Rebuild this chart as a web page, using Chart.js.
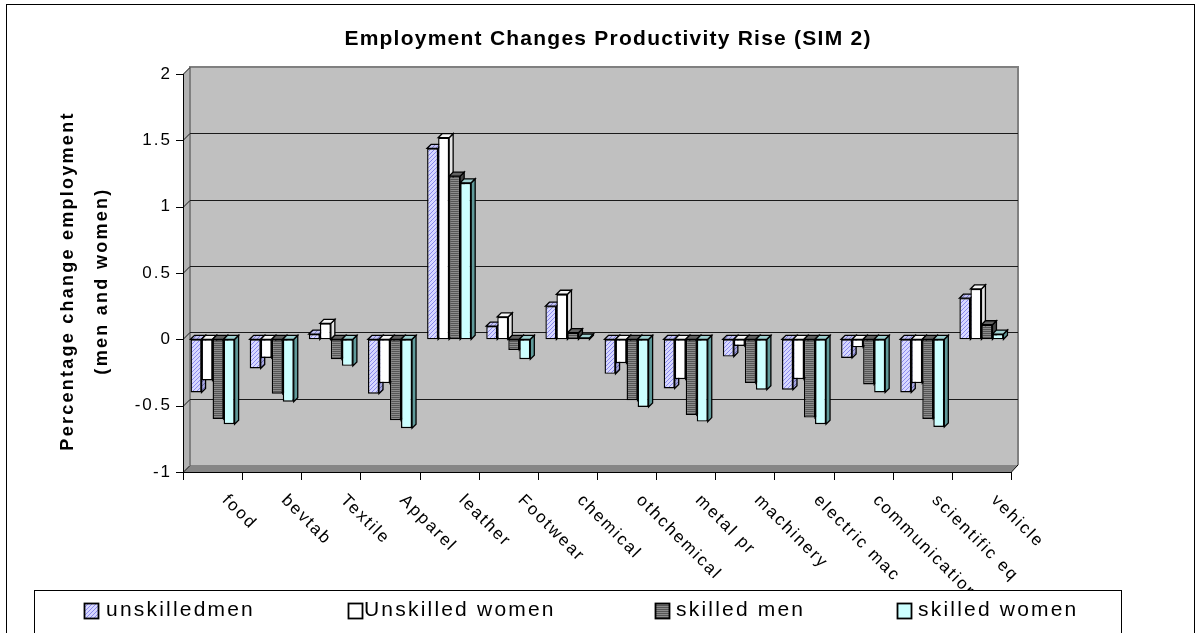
<!DOCTYPE html>
<html>
<head>
<meta charset="utf-8">
<script src="https://cdn.jsdelivr.net/npm/chart.js@4.4.1/dist/chart.umd.min.js"></script>
<style>
  html, body { margin: 0; padding: 0; background: #ffffff; }
  canvas { display: block; }
</style>
</head>
<body>
<canvas id="chart" width="1203" height="633"></canvas>
<script>
// ---- data ----
const categories = ['food', 'bevtab', 'Textile', 'Apparel', 'leather', 'Footwear', 'chemical',
  'othchemical', 'metal pr', 'machinery', 'electric mac', 'communication', 'scientific eq', 'vehicle'];
const unskilledMen   = [-0.40, -0.22, 0.04, -0.41, 1.44, 0.10, 0.25, -0.26, -0.37, -0.13, -0.38, -0.14, -0.40, 0.31];
const unskilledWomen = [-0.31, -0.14, 0.12, -0.33, 1.52, 0.17, 0.34, -0.18, -0.30, -0.05, -0.30, -0.06, -0.33, 0.38];
const skilledMen     = [-0.60, -0.41, -0.15, -0.61, 1.23, -0.08, 0.05, -0.46, -0.57, -0.33, -0.59, -0.34, -0.60, 0.11];
const skilledWomen   = [-0.64, -0.47, -0.20, -0.67, 1.18, -0.15, 0.01, -0.51, -0.62, -0.38, -0.64, -0.40, -0.66, 0.04];
const seriesNames = ['unskilledmen', 'Unskilled women', 'skilled men', 'skilled women'];
const yTickValues = [2, 1.5, 1, 0.5, 0, -0.5, -1];
const yTickLabels = ['2', '1.5', '1', '0.5', '0', '-0.5', '-1'];
const chartTitle = 'Employment Changes Productivity Rise (SIM 2)';
const yTitleLines = ['Percentage change employment', '(men and women)'];

// ---- styling helpers ----
const FONT = '"Liberation Sans", Arial, Helvetica, sans-serif';
const canvas = document.getElementById('chart');
const ctx = canvas.getContext('2d');

function tilePattern(w, h, paint) {
  const t = document.createElement('canvas');
  t.width = w; t.height = h;
  paint(t.getContext('2d'));
  return ctx.createPattern(t, 'repeat');
}
function diagTile(bg, fg) {
  return tilePattern(4, 4, g => {
    g.fillStyle = bg; g.fillRect(0, 0, 4, 4);
    g.fillStyle = fg;
    for (let i = 0; i < 4; i++) g.fillRect(i, 3 - i, 1, 1);
  });
}
function stripeTile(a, b) {
  return tilePattern(2, 2, g => {
    g.fillStyle = a; g.fillRect(0, 0, 2, 1);
    g.fillStyle = b; g.fillRect(0, 1, 2, 1);
  });
}

// front / side / top faces per series
const faces = [
  { front: diagTile('#d8d8ff', '#8a8aee'), side: diagTile('#a6a6dc', '#6a6ab4'), top: diagTile('#c4c4f0', '#8080d0') },
  { front: '#ffffff', side: '#e4e4e4', top: '#f4f4f4' },
  { front: stripeTile('#8c8c8c', '#565656'), side: '#454545', top: '#626262' },
  { front: '#ccffff', side: '#5f9a9a', top: '#9fd0d0' }
];

const DEPTH_X = 4, DEPTH_Y = 4;      // bar extrusion
const WALL_X = 7, WALL_Y = 7;        // back wall offset

function poly(c, pts, fill, stroke, lw) {
  c.beginPath();
  c.moveTo(pts[0][0], pts[0][1]);
  for (let i = 1; i < pts.length; i++) c.lineTo(pts[i][0], pts[i][1]);
  c.closePath();
  if (fill) { c.fillStyle = fill; c.fill(); }
  if (stroke) { c.strokeStyle = stroke; c.lineWidth = lw || 1; c.stroke(); }
}

function spacedText(c, text, x, y, spacing) {
  c.letterSpacing = spacing + 'px';
  c.fillText(text, x, y);
  c.letterSpacing = '0px';
}
function fitSpacing(c, text, target) {
  c.letterSpacing = '0px';
  const w = c.measureText(text).width;
  return Math.max(0, (target - w) / Math.max(1, text.length - 1));
}

// ---- walls, floor, gridlines, axes and bar depth ----
const stagePlugin = {
  id: 'stage3d',
  beforeDatasetsDraw(chart) {
    const c = chart.ctx;
    const xs = chart.scales.x, ys = chart.scales.y;
    const L = xs.left, R = xs.right, T = ys.getPixelForValue(2), B = ys.getPixelForValue(-1);
    c.save();
    c.lineJoin = 'miter';

    // back wall
    poly(c, [[L + WALL_X, T - WALL_Y], [R + WALL_X, T - WALL_Y], [R + WALL_X, B - WALL_Y], [L + WALL_X, B - WALL_Y]], '#c0c0c0');
    // left side wall
    poly(c, [[L, T], [L + WALL_X, T - WALL_Y], [L + WALL_X, B - WALL_Y], [L, B]], '#b2b2b2');
    // floor
    poly(c, [[L, B], [L + WALL_X, B - WALL_Y], [R + WALL_X, B - WALL_Y], [R, B]], '#868686');

    // wall outlines
    c.strokeStyle = '#808080';
    c.lineWidth = 2;
    c.beginPath();
    c.moveTo(L + WALL_X, B - WALL_Y); c.lineTo(L + WALL_X, T - WALL_Y);
    c.lineTo(R + WALL_X, T - WALL_Y); c.lineTo(R + WALL_X, B - WALL_Y);
    c.stroke();

    // gridlines on the back wall + slanted links on the side wall
    c.strokeStyle = '#1a1a1a';
    c.lineWidth = 1;
    yTickValues.forEach(v => {
      const py = Math.round(ys.getPixelForValue(v)) + 0.5;
      c.beginPath();
      c.moveTo(L, py); c.lineTo(L + WALL_X, py - WALL_Y);
      if (v !== 2 && v !== -1) c.lineTo(R + WALL_X, py - WALL_Y);
      c.stroke();
    });

    // front vertical axis with tick marks
    c.strokeStyle = '#000';
    c.beginPath();
    c.moveTo(L + 0.5, T); c.lineTo(L + 0.5, B + 1);
    yTickValues.forEach(v => {
      const py = Math.round(ys.getPixelForValue(v)) + 0.5;
      c.moveTo(L - 7, py); c.lineTo(L + 0.5, py);
    });
    c.stroke();

    // front category axis with boundary ticks
    c.beginPath();
    c.moveTo(L, Math.round(B) + 0.5); c.lineTo(R, Math.round(B) + 0.5);
    c.lineTo(R + WALL_X, B - WALL_Y);
    for (let i = 0; i <= categories.length; i++) {
      const px = Math.round(xs.getPixelForValue(i - 0.5)) + 0.5;
      c.moveTo(px, B); c.lineTo(px, B + 8);
    }
    c.stroke();

    // bar extrusions (side and top faces); front faces are drawn by Chart.js above them
    chart.data.datasets.forEach((ds, di) => {
      const meta = chart.getDatasetMeta(di);
      const f = faces[di];
      meta.data.forEach(el => {
        const p = el.getProps(['x', 'y', 'base', 'width'], true);
        const top = Math.min(p.y, p.base), bot = Math.max(p.y, p.base);
        const l = p.x - p.width / 2, r = p.x + p.width / 2;
        poly(c, [[r, top], [r + DEPTH_X, top - DEPTH_Y], [r + DEPTH_X, bot - DEPTH_Y], [r, bot]], f.side, '#000', 1.3);
        poly(c, [[l, top], [l + DEPTH_X, top - DEPTH_Y], [r + DEPTH_X, top - DEPTH_Y], [r, top]], f.top, '#000', 1.3);
      });
    });
    c.restore();
  },

  // ---- texts, legend and frame ----
  afterDraw(chart) {
    const c = chart.ctx;
    const xs = chart.scales.x, ys = chart.scales.y;
    c.save();
    c.fillStyle = '#000';

    // y tick labels
    c.font = '17px ' + FONT;
    c.textAlign = 'right';
    c.textBaseline = 'middle';
    yTickValues.forEach((v, i) => {
      spacedText(c, yTickLabels[i], xs.left - 11, ys.getPixelForValue(v), 2);
    });

    // rotated category labels
    c.textAlign = 'left';
    c.textBaseline = 'alphabetic';
    const axisY = ys.getPixelForValue(-1);
    categories.forEach((lab, i) => {
      const cx = xs.getPixelForValue(i);
      c.save();
      c.translate(cx + 9, axisY + 29);
      c.rotate(Math.PI / 4);
      spacedText(c, lab, 0, 0, 2);
      c.restore();
    });

    // chart title
    c.font = 'bold 21px ' + FONT;
    c.textAlign = 'center';
    c.textBaseline = 'alphabetic';
    spacedText(c, chartTitle, 608, 45, fitSpacing(c, chartTitle, 526));

    // y-axis title (two lines)
    c.font = 'bold 18px ' + FONT;
    const yTitleX = [73, 107];
    const yTitleW = [337, 185];
    yTitleLines.forEach((line, i) => {
      c.save();
      c.translate(yTitleX[i], 281);
      c.rotate(-Math.PI / 2);
      spacedText(c, line, 0, 0, fitSpacing(c, line, yTitleW[i]));
      c.restore();
    });

    // legend box
    c.fillStyle = '#ffffff';
    c.fillRect(34, 590, 1087, 60);
    c.strokeStyle = '#000';
    c.lineWidth = 1;
    c.strokeRect(34.5, 590.5, 1087, 60);
    const swatchX = [84, 348, 655, 897];
    const textX = [106, 364, 676, 918];
    c.font = '21px ' + FONT;
    c.textAlign = 'left';
    c.textBaseline = 'alphabetic';
    seriesNames.forEach((name, i) => {
      c.fillStyle = faces[i].front;
      c.fillRect(swatchX[i], 603, 14, 15);
      c.lineWidth = 1.8;
      c.strokeStyle = '#000';
      c.strokeRect(swatchX[i] + 0.5, 603.5, 14, 15);
      c.fillStyle = '#000';
      spacedText(c, name, textX[i], 616, 2.2);
    });

    // outer chart frame
    c.lineWidth = 1;
    c.strokeStyle = '#000';
    c.strokeRect(6.5, 4.5, 1188, 700);
    c.restore();
  }
};

new Chart(ctx, {
  type: 'bar',
  data: {
    labels: categories,
    datasets: [unskilledMen, unskilledWomen, skilledMen, skilledWomen].map((vals, i) => ({
      label: seriesNames[i],
      data: vals,
      backgroundColor: faces[i].front,
      borderColor: '#000000',
      borderWidth: 1.4,
      borderSkipped: false,
      inflateAmount: 0
    }))
  },
  options: {
    responsive: false,
    animation: false,
    devicePixelRatio: 1,
    layout: { padding: { left: 183, right: 192, top: 74, bottom: 161 } },
    datasets: { bar: { categoryPercentage: 0.745, barPercentage: 1.0 } },
    plugins: {
      legend: { display: false },
      title: { display: false },
      tooltip: { enabled: false }
    },
    scales: {
      x: { display: false },
      y: { display: false, min: -1, max: 2 }
    }
  },
  plugins: [stagePlugin]
});
</script>
</body>
</html>
